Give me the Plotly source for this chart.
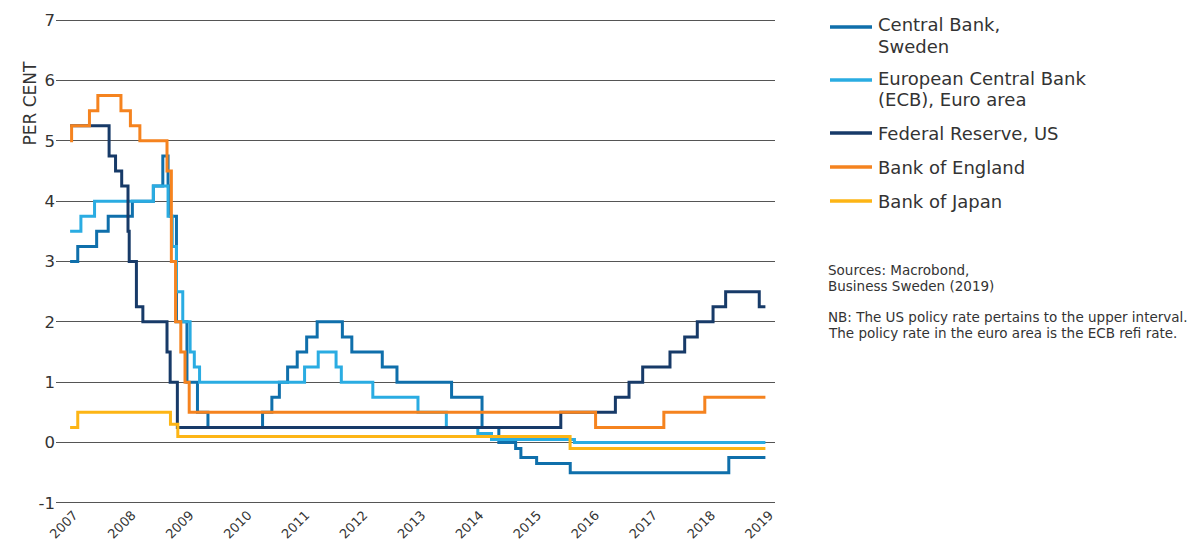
import pandas as pd
import plotly.graph_objects as go

# policy rate decisions (date the new rate took effect, rate in per cent)
sweden_dates = ['2007-01-01', '2007-02-21', '2007-06-27', '2007-09-12', '2008-02-20',
                '2008-07-09', '2008-09-10', '2008-10-15', '2008-10-29', '2008-12-10',
                '2009-02-18', '2009-04-29', '2009-07-08', '2010-07-07', '2010-09-07',
                '2010-10-27', '2010-12-21', '2011-02-23', '2011-04-27', '2011-07-06',
                '2011-12-21', '2012-02-22', '2012-09-12', '2012-12-19', '2013-12-18',
                '2014-07-09', '2014-10-29', '2015-02-18', '2015-03-25', '2015-07-08',
                '2016-02-17', '2019-01-09', '2019-09-10']
sweden_rates = [3.0, 3.25, 3.5, 3.75, 4.0, 4.25, 4.75, 4.25, 3.75, 2.0,
                1.0, 0.5, 0.25, 0.5, 0.75, 1.0, 1.25, 1.5, 1.75, 2.0,
                1.75, 1.5, 1.25, 1.0, 0.75, 0.25, 0.0, -0.1, -0.25, -0.35,
                -0.5, -0.25, -0.25]

ecb_dates = ['2007-01-01', '2007-03-14', '2007-06-13', '2008-07-09', '2008-10-15',
             '2008-11-12', '2008-12-10', '2009-01-21', '2009-03-11', '2009-04-08',
             '2009-05-13', '2011-04-13', '2011-07-13', '2011-11-09', '2011-12-14',
             '2012-07-11', '2013-05-08', '2013-11-13', '2014-06-11', '2014-09-10',
             '2016-03-16', '2019-09-10']
ecb_rates = [3.5, 3.75, 4.0, 4.25, 3.75, 3.25, 2.5, 2.0, 1.5, 1.25,
             1.0, 1.25, 1.5, 1.25, 1.0, 0.75, 0.5, 0.25, 0.15, 0.05,
             0.0, 0.0]

fed_dates = ['2007-01-01', '2007-09-18', '2007-10-31', '2007-12-11', '2008-01-22',
             '2008-01-30', '2008-03-18', '2008-04-30', '2008-10-08', '2008-10-29',
             '2008-12-16', '2015-12-16', '2016-12-14', '2017-03-15', '2017-06-14',
             '2017-12-13', '2018-03-21', '2018-06-13', '2018-09-26', '2018-12-19',
             '2019-07-31', '2019-09-10']
fed_rates = [5.25, 4.75, 4.5, 4.25, 3.5, 3.0, 2.25, 2.0, 1.5, 1.0,
             0.25, 0.5, 0.75, 1.0, 1.25, 1.5, 1.75, 2.0, 2.25, 2.5,
             2.25, 2.25]

boe_dates = ['2007-01-01', '2007-01-11', '2007-05-10', '2007-07-05', '2007-12-06',
             '2008-02-07', '2008-04-10', '2008-10-08', '2008-11-06', '2008-12-04',
             '2009-01-08', '2009-02-05', '2009-03-05', '2016-08-04', '2017-11-02',
             '2018-08-02', '2019-09-10']
boe_rates = [5.0, 5.25, 5.5, 5.75, 5.5, 5.25, 5.0, 4.5, 3.0, 2.0,
             1.5, 1.0, 0.5, 0.25, 0.5, 0.75, 0.75]

boj_dates = ['2007-01-01', '2007-02-21', '2008-10-31', '2008-12-19', '2016-02-16',
             '2019-09-10']
boj_rates = [0.25, 0.5, 0.3, 0.1, -0.1, -0.1]

year_labels = [str(y) for y in range(2007, 2020)]
y_ticks = [-1, 0, 1, 2, 3, 4, 5, 6, 7]
y_labels = ['-1', '0', '1', '2', '3', '4', '5', '6', '7']

series = [
    (['Central Bank,', 'Sweden'], sweden_dates, sweden_rates, '#0f6fab'),
    (['European Central Bank', '(ECB), Euro area'], ecb_dates, ecb_rates, '#2aace2'),
    (['Federal Reserve, US'], fed_dates, fed_rates, '#173a68'),
    (['Bank of England'], boe_dates, boe_rates, '#f5831f'),
    (['Bank of Japan'], boj_dates, boj_rates, '#fdb515'),
]

font_family = 'DejaVu Sans, sans-serif'
text_color = '#333333'

# page layout in pixels
W, H = 1191, 547
ML, MR, MT, MB = 56, 416, 19, 43
plot_w = W - ML - MR
plot_h = H - MT - MB


def px_x(px):
    return (px - ML) / plot_w


def px_y(py):
    return (H - MB - py) / plot_h


fig = go.Figure()
for name, dates, rates, color in series:
    fig.add_trace(
        go.Scatter(
            x=pd.to_datetime(dates), y=rates, name=' '.join(name), mode='lines',
            line={'color': color, 'width': 3, 'shape': 'hv'}, showlegend=False
        )
    )

# hand-drawn legend: a short line sample and the name, one line per row
shapes = []
annotations = []
legend_rows = [27, 80, 133, 167, 201]
line_gap = 21.5
for (name, dates, rates, color), row_y in zip(series, legend_rows):
    shapes.append(dict(
        type='line', xref='paper', yref='paper',
        x0=px_x(830), x1=px_x(872), y0=px_y(row_y), y1=px_y(row_y),
        line={'color': color, 'width': 3.5}
    ))
    top = row_y - (2 if len(name) > 1 else 0)
    for i, line_text in enumerate(name):
        annotations.append(dict(
            text=line_text, xref='paper', yref='paper',
            x=px_x(876), y=px_y(top + line_gap * i), xanchor='left', yanchor='middle',
            showarrow=False, font={'size': 18, 'color': text_color}
        ))

notes = [
    ('Sources: Macrobond,', 270),
    ('Business Sweden (2019)', 286),
    ('NB: The US policy rate pertains to the upper interval.', 317),
    ('The policy rate in the euro area is the ECB refi rate.', 333),
]
for note, row_y in notes:
    annotations.append(dict(
        text=note, xref='paper', yref='paper', x=px_x(826), y=px_y(row_y),
        xanchor='left', yanchor='middle', showarrow=False,
        font={'size': 13.5, 'color': text_color}
    ))

annotations.append(dict(
    text='PER CENT', xref='paper', yref='paper', x=px_x(17), y=px_y(59),
    textangle=-90, showarrow=False, font={'size': 17, 'color': text_color}
))

# year labels are spread evenly over the span of the data, like the original
first = pd.Timestamp(sweden_dates[0])
last = pd.Timestamp(sweden_dates[-1])
step = (last - first) / (len(year_labels) - 1)
tick_pos = [first + step * i for i in range(len(year_labels))]

fig.update_layout(
    width=W,
    height=H,
    plot_bgcolor='white',
    paper_bgcolor='white',
    font={'family': font_family, 'color': text_color},
    margin=dict(l=ML, r=MR, t=MT, b=MB),
    showlegend=False,
    xaxis={
        'range': [pd.Timestamp('2006-09-29'), pd.Timestamp('2019-11-13')],
        'tickvals': tick_pos,
        'ticktext': year_labels,
        'tickangle': -45,
        'ticklabelshift': 4,
        'tickfont': {'size': 13, 'color': text_color},
        'showgrid': False,
        'zeroline': False,
        'showline': False,
        'automargin': False,
    },
    yaxis={
        'range': [-1.02, 7.02],
        'tickvals': y_ticks,
        'ticktext': y_labels,
        'tickfont': {'size': 16.5, 'color': text_color},
        'showgrid': True,
        'gridcolor': '#555555',
        'gridwidth': 1,
        'zeroline': False,
        'showline': False,
        'automargin': False,
    },
    shapes=shapes,
    annotations=annotations,
)

# the page's default body margin would shift the chart by 8px
fig.write_html(
    "out.html",
    config={'displayModeBar': False},
    post_script="document.body.style.margin = '0';"
)
